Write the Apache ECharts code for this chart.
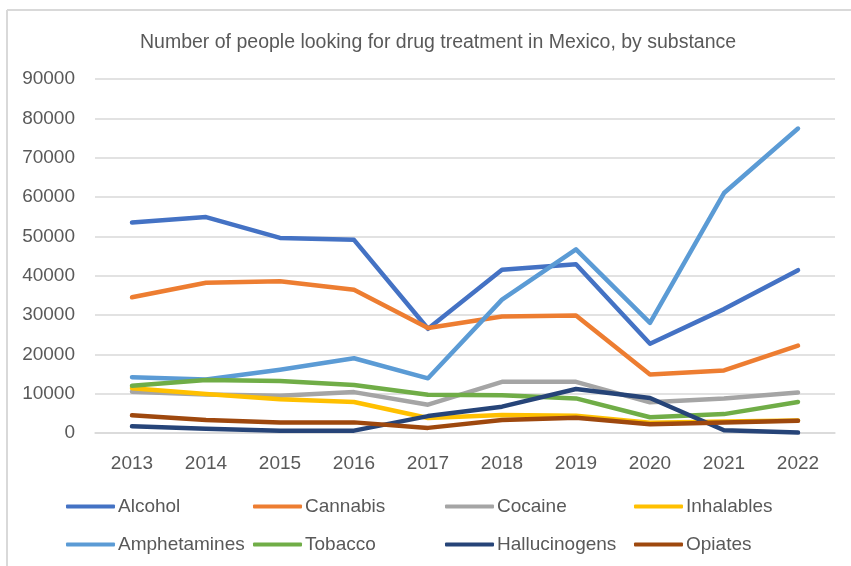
<!DOCTYPE html>
<html><head><meta charset="utf-8">
<script src="https://cdn.jsdelivr.net/npm/echarts@6/dist/echarts.min.js"></script>
<style>html,body{margin:0;padding:0;background:#fff}#c{width:851px;height:566px}</style>
</head><body><div id="c"></div>
<script>
const years = ['2013','2014','2015','2016','2017','2018','2019','2020','2021','2022'];
const seriesNames = ['Alcohol','Cannabis','Cocaine','Inhalables','Amphetamines','Tobacco','Hallucinogens','Opiates'];
const alcohol       = [53500,54900,49600,49100,26500,41500,42900,22700,31500,41400];
const cannabis      = [34500,38200,38600,36400,26700,29600,29900,14900,15900,22200];
const cocaine       = [10500,9800,9500,10400,7200,13000,13000,7800,8800,10300];
const inhalables    = [11400,9900,8600,7900,3800,4600,4400,2600,2900,3200];
const amphetamines  = [14200,13600,16100,19000,13900,33900,46700,28000,61000,77400];
const tobacco       = [12000,13500,13200,12200,9700,9600,8800,4000,4800,7900];
const hallucinogens = [1700,1100,600,600,4300,6700,11200,8900,700,100];
const opiates       = [4500,3300,2700,2700,1300,3300,3900,2200,2700,3100];
const yTicks = [0,10000,20000,30000,40000,50000,60000,70000,80000,90000];

const values = [alcohol,cannabis,cocaine,inhalables,amphetamines,tobacco,hallucinogens,opiates];
const colors = ['#4472C4','#ED7D31','#A5A5A5','#FFC000','#5B9BD5','#70AD47','#264478','#9E480E'];
const font = 'Liberation Sans';
const legendPos = [[66,497],[253,497],[445,497],[634,497],[66,535],[253,535],[445,535],[634,535]];

const chart = echarts.init(document.getElementById('c'));
chart.setOption({
  animation:false,
  title:{text:'Number of people looking for drug treatment in Mexico, by substance',left:135,top:28,
    textStyle:{fontFamily:font,fontSize:19.5,fontWeight:'normal',color:'#595959'}},
  graphic:[
    {type:'line',shape:{x1:7,y1:10,x2:851,y2:10},style:{stroke:'#D9D9D9',lineWidth:2},silent:true},
    {type:'line',shape:{x1:7,y1:10,x2:7,y2:566},style:{stroke:'#D9D9D9',lineWidth:2},silent:true}
  ],
  grid:{left:95,right:16,top:79,bottom:133,containLabel:false},
  xAxis:{type:'category',data:years,boundaryGap:true,
    axisLine:{lineStyle:{color:'#D9D9D9',width:1.5}},axisTick:{show:false},
    axisLabel:{fontFamily:font,fontSize:19,color:'#595959',margin:21}},
  yAxis:{type:'value',min:yTicks[0],max:yTicks[yTicks.length-1],interval:10000,
    axisLine:{show:false},axisTick:{show:false},
    splitLine:{lineStyle:{color:'#D9D9D9',width:1.5}},
    axisLabel:{fontFamily:font,fontSize:19,color:'#595959',margin:20,formatter:v=>String(v)}},
  legend: seriesNames.map((n,i)=>({data:[n],left:legendPos[i][0],top:legendPos[i][1],
    icon:'roundRect',itemWidth:49,itemHeight:4,padding:0,
    textStyle:{fontFamily:font,fontSize:19,color:'#595959',padding:[0,0,0,-2]}})),
  series: seriesNames.map((n,i)=>({name:n,type:'line',data:values[i],symbol:'none',
    lineStyle:{width:4.5,color:colors[i],join:'round',cap:'round'},itemStyle:{color:colors[i]}}))
});
</script></body></html>
